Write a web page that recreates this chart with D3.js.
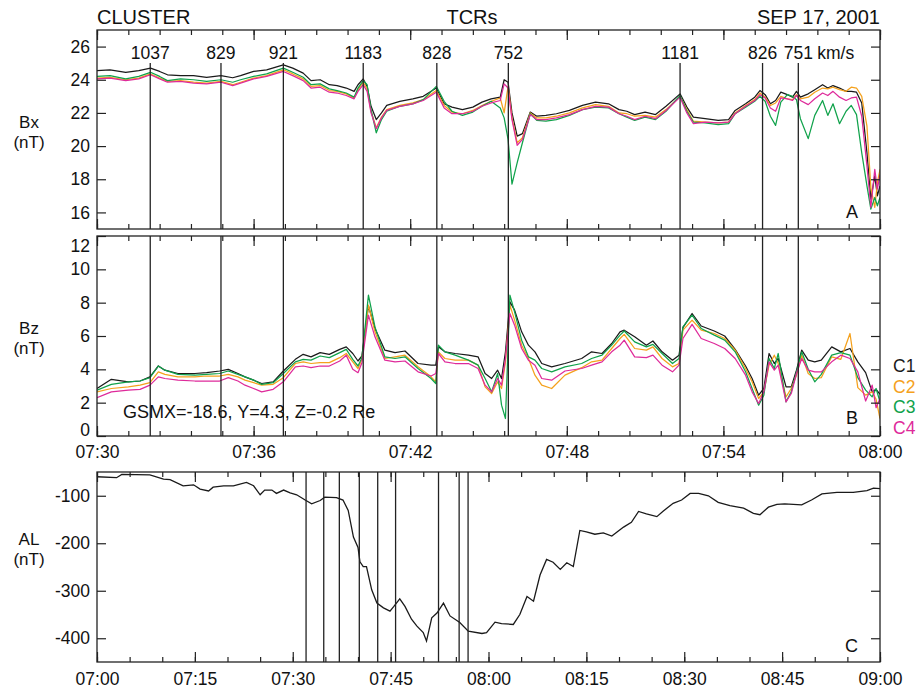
<!DOCTYPE html>
<html>
<head>
<meta charset="utf-8">
<script src="https://cdn.jsdelivr.net/npm/d3@7"></script>
<style>
  body { margin: 0; background: #fff; }
  svg { font-family: "Liberation Sans", Arial, Helvetica, sans-serif; }
  .axis path { display: none; }
  .axis line { stroke: #222; stroke-width: 1.2; }
  .axis text { font-size: 17.5px; fill: #111; }
</style>
</head>
<body>
<svg id="chart" width="921" height="690"></svg>
<script>
const probes = ['C1', 'C2', 'C3', 'C4'];
const probeColours = ['#1a1a1a', '#f5a11c', '#10a24b', '#de2a9a'];

// TCR crossing times, minutes after 07:30, with speeds in km/s
const tcrMinutes = [2.04, 4.75, 7.14, 10.2, 13.02, 15.76, 22.34, 25.5, 26.87];
const tcrSpeeds = ['1037', '829', '921', '1183', '828', '752', '1181', '826', '751'];

// Bx, minutes after 07:30
const bxMinutes = [0, 0.5, 1.1, 1.6, 2.05, 2.4, 2.7, 3.2, 3.7, 4.2,
  4.75, 5.2, 5.5, 6.0, 6.5, 7.14, 7.5, 7.9, 8.2, 8.55,
  8.9, 9.2, 9.55, 9.85, 10.0, 10.2, 10.35, 10.5, 10.7, 10.9,
  11.1, 11.6, 12.1, 12.5, 13.0, 13.3, 13.6, 14.0, 14.4, 14.75,
  15.1, 15.45, 15.6, 15.75, 15.9, 16.1, 16.3, 16.6, 16.85, 17.2,
  17.6, 18.1, 18.6, 19.1, 19.6, 20.0, 20.3, 20.6, 21.0, 21.4,
  21.8, 22.34, 22.6, 22.85, 23.3, 23.8, 24.2, 24.45, 24.85, 25.2,
  25.4, 25.6, 25.8, 26.0, 26.2, 26.45, 26.65, 26.8, 26.95, 27.25,
  27.5, 27.8, 28.0, 28.2, 28.45, 28.7, 28.9, 29.1, 29.3, 29.5,
  29.65, 29.8, 29.9, 30];
const bxC1 = [24.55, 24.6, 24.45, 24.55, 24.7, 24.5, 24.3, 24.25, 24.25, 24.15,
  24.25, 24.12, 24.25, 24.5, 24.6, 24.9, 24.7, 24.4, 23.95, 24.0,
  23.7, 23.65, 23.5, 23.3, 23.7, 24.05, 23.6, 22.4, 21.6, 22.0,
  22.45, 22.7, 22.85, 23.0, 23.5, 22.55, 22.35, 22.2, 22.35, 22.65,
  22.85, 22.95, 24.0, 23.85, 22.0, 20.6, 20.75, 22.05, 21.8, 21.85,
  21.95, 22.15, 22.45, 22.65, 22.55, 22.2, 22.1, 21.9, 22.05, 21.9,
  22.4, 23.15, 22.35, 21.75, 21.65, 21.55, 21.6, 22.15, 22.55, 22.95,
  23.35, 23.1, 22.55, 22.75, 23.25, 23.1, 22.95, 23.3, 22.95, 23.15,
  23.4, 23.7, 23.5, 23.65, 23.5, 23.3, 23.3, 23.25, 22.6, 19.6,
  16.8, 18.2, 17.0, 17.6];
const bxC2 = [24.1, 24.15, 24.0, 24.1, 24.35, 24.1, 23.9, 23.95, 23.85, 23.8,
  23.9, 23.7, 23.85, 24.1, 24.25, 24.6, 24.35, 24.05, 23.6, 23.65,
  23.35, 23.3, 23.15, 22.9, 23.4, 23.85, 23.45, 22.1, 21.1, 21.75,
  22.2, 22.45, 22.6, 22.8, 23.35, 22.45, 22.05, 21.95, 22.15, 22.45,
  22.7, 22.9, 22.0, 23.6, 21.7, 20.2, 20.5, 22.0, 21.7, 21.7,
  21.8, 22.0, 22.3, 22.5, 22.4, 22.0, 21.95, 21.8, 21.85, 21.75,
  22.2, 23.0, 22.2, 21.5, 21.45, 21.4, 21.45, 22.0, 22.45, 22.8,
  23.2, 22.95, 22.45, 22.6, 23.0, 22.85, 22.8, 23.1, 22.85, 22.95,
  23.25, 23.5, 23.45, 23.55, 23.4, 23.3, 23.55, 23.5, 23.0, 21.2,
  17.5, 16.3, 17.8, 18.6];
const bxC3 = [24.2, 24.25, 24.05, 24.2, 24.45, 24.2, 23.95, 24.05, 24.0, 23.9,
  24.0, 23.85, 24.0, 24.2, 24.35, 24.7, 24.45, 24.15, 23.7, 23.75,
  23.45, 23.35, 23.2, 22.95, 23.5, 23.95, 23.7, 22.2, 20.8, 21.6,
  22.1, 22.4, 22.55, 22.8, 23.6, 22.7, 22.1, 21.85, 22.05, 22.4,
  22.7, 22.3, 21.7, 20.4, 17.7, 19.0, 20.2, 21.95, 21.55, 21.5,
  21.6, 21.85, 22.2, 22.35, 22.3, 21.95, 21.75, 21.55, 21.75, 21.6,
  22.1, 23.05, 22.1, 21.45, 21.4, 21.3, 21.35, 21.95, 22.35, 22.7,
  23.0, 22.7, 21.8, 21.25, 22.65, 23.1, 23.0, 22.8, 21.65, 20.45,
  21.85, 22.75, 21.85, 22.55, 21.35, 22.1, 22.45, 21.9, 19.6, 17.6,
  16.2, 16.9, 16.4, 16.9];
const bxC4 = [24.05, 24.1, 23.95, 24.05, 24.3, 24.05, 23.85, 23.9, 23.8, 23.75,
  23.85, 23.65, 23.8, 24.05, 24.2, 24.5, 24.25, 23.95, 23.5, 23.55,
  23.25, 23.2, 23.05, 22.85, 23.3, 23.7, 23.3, 22.0, 21.05, 21.7,
  22.15, 22.4, 22.55, 22.75, 23.25, 22.3, 21.95, 21.95, 22.1, 22.4,
  22.6, 22.75, 23.75, 23.5, 21.6, 20.05, 20.4, 21.9, 21.6, 21.6,
  21.7, 21.9, 22.2, 22.4, 22.35, 21.95, 21.8, 21.6, 21.8, 21.65,
  22.15, 22.95, 22.0, 21.35, 21.45, 21.4, 21.45, 21.95, 22.4, 22.75,
  23.1, 22.9, 22.3, 22.1, 22.9, 22.85, 22.75, 23.05, 22.75, 22.5,
  22.85, 23.2, 23.05, 23.3, 22.95, 22.75, 22.9, 22.95, 21.8, 18.8,
  16.3, 18.6, 17.4, 18.3];

// Bz, minutes after 07:30
const bzMinutes = [0, 0.55, 1.2, 1.65, 2.03, 2.35, 2.6, 3.1, 3.75, 4.2,
  4.7, 5.03, 5.4, 5.67, 6.0, 6.31, 6.75, 7.14, 7.6, 7.9,
  8.2, 8.55, 8.9, 9.3, 9.55, 9.8, 10.0, 10.15, 10.4, 10.65,
  11.03, 11.42, 11.8, 12.3, 12.8, 12.98, 13.08, 13.33, 13.72, 14.23,
  14.6, 14.87, 15.12, 15.35, 15.5, 15.65, 15.82, 16.0, 16.27, 16.53,
  16.78, 17.04, 17.42, 17.93, 18.57, 18.95, 19.35, 19.72, 20.04, 20.2,
  20.6, 21.05, 21.3, 21.65, 22.05, 22.3, 22.45, 22.8, 23.15, 23.65,
  24.05, 24.45, 24.85, 25.1, 25.35, 25.55, 25.75, 25.95, 26.1, 26.4,
  26.6, 26.8, 27.0, 27.25, 27.5, 27.75, 28.15, 28.5, 28.85, 29.15,
  29.45, 29.7, 29.85, 30];
const bzC1 = [2.85, 3.4, 3.25, 3.3, 3.55, 4.2, 3.95, 3.75, 3.75, 3.8,
  3.9, 4.0, 3.75, 3.55, 3.35, 3.15, 3.25, 3.9, 4.6, 4.9,
  4.75, 5.0, 4.9, 5.2, 5.35, 4.95, 4.5, 4.8, 7.8, 6.45,
  5.15, 5.0, 5.1, 4.35, 4.25, 4.25, 5.35, 5.05, 4.95, 4.85,
  4.75, 3.75, 3.45, 3.95, 3.45, 5.05, 8.05, 7.55, 6.25, 5.45,
  5.05, 4.35, 4.15, 4.35, 4.65, 5.05, 4.95, 5.55, 6.25, 6.35,
  5.95, 5.45, 5.7, 5.05, 4.55, 4.85, 6.5, 7.35, 6.6, 6.3,
  6.0, 5.2, 4.2, 3.45, 2.45, 2.85, 4.95, 4.35, 4.65, 2.95,
  2.95, 3.95, 5.15, 4.55, 4.45, 4.55, 5.35, 5.05, 5.25, 4.45,
  3.8, 2.65, 2.8, 2.5];
const bzC2 = [2.65, 2.85, 2.95, 3.05, 3.2, 3.85, 3.7, 3.55, 3.55, 3.6,
  3.6, 3.7, 3.55, 3.35, 3.2, 3.05, 3.1, 3.5, 4.35, 4.45,
  4.35, 4.4, 4.4, 4.7, 4.95, 4.45, 4.05, 4.6, 7.85, 6.25,
  4.65, 4.75, 4.85, 4.15, 3.55, 3.25, 5.05, 4.65, 4.55, 4.55,
  4.25, 2.95, 2.55, 3.25, 2.85, 4.45, 7.85, 6.95, 5.45, 4.65,
  3.65, 3.05, 2.85, 3.65, 4.1, 4.45, 4.55, 5.25, 5.85, 6.1,
  5.25, 5.15, 5.35, 4.65, 4.15, 4.35, 6.35, 6.95, 6.35, 6.15,
  5.85, 5.15, 4.05, 3.25, 2.25, 2.65, 4.25, 4.85, 4.35, 2.35,
  2.85, 3.65, 4.85, 3.75, 3.45, 3.5, 4.75, 4.6, 6.15, 2.9,
  2.45, 2.65, 2.2, 1.05];
const bzC3 = [2.75, 3.1, 3.25, 3.3, 3.5, 4.2, 3.95, 3.7, 3.65, 3.7,
  3.75, 3.9, 3.7, 3.55, 3.35, 3.1, 3.2, 3.75, 4.45, 4.6,
  4.55, 4.8, 4.7, 5.0, 5.2, 4.6, 4.2, 4.7, 8.45, 6.55,
  4.75, 4.65, 4.75, 4.05, 3.45, 3.15, 5.45, 5.05, 4.85, 4.55,
  4.25, 3.45, 2.65, 3.75, 1.85, 1.05, 8.45, 7.45, 5.75, 4.75,
  4.55, 4.05, 3.85, 4.15, 4.35, 4.65, 4.85, 5.45, 6.05, 6.3,
  5.65, 5.35, 5.5, 4.95, 4.35, 4.65, 6.55, 7.25, 6.45, 6.05,
  5.75, 5.05, 3.85, 2.85, 1.85, 2.45, 4.65, 4.05, 4.95, 2.05,
  2.65, 3.85, 5.05, 4.0, 3.25, 3.7, 4.85, 5.0, 4.85, 3.5,
  2.75, 2.35, 2.85, 2.05];
const bzC4 = [2.3, 2.65, 2.75, 2.8, 3.05, 3.55, 3.45, 3.35, 3.3, 3.3,
  3.3, 3.5, 3.3, 3.05, 2.85, 2.65, 2.8, 3.25, 4.15, 4.2,
  4.1, 4.2, 4.2, 4.5, 4.85, 4.0, 3.8, 4.4, 7.25, 5.95,
  4.55, 4.45, 4.5, 3.85, 3.6, 3.75, 4.95, 4.45, 4.35, 4.35,
  4.05, 3.05, 2.65, 3.45, 3.05, 4.65, 7.35, 6.65, 5.25, 4.55,
  4.25, 3.45, 3.35, 3.9, 4.05, 4.25, 4.45, 5.05, 5.45, 5.75,
  4.75, 4.7, 4.85, 4.25, 3.85, 4.25, 5.85, 6.7, 5.85, 5.55,
  5.25, 4.65, 3.65, 2.65, 1.95, 2.65, 4.45, 3.95, 4.25, 2.05,
  2.55, 3.75, 4.65, 3.95, 3.85, 3.85, 4.45, 4.85, 4.65, 3.85,
  2.1, 3.05, 1.7, 2.25];

// AL index, minutes after 07:00
const alMinutes = [0, 3, 3.8, 8.1, 10.2, 11.2, 13.2, 14.8, 15.8, 17.1,
  17.8, 19.4, 20.9, 22.9, 24, 25, 25.7, 26.8, 27.5, 28.6,
  29.6, 30.6, 31.9, 32.9, 34.2, 34.9, 36.7, 37.7, 38.5, 39.3,
  40.0, 40.3, 40.8, 41.3, 42.1, 42.9, 43.9, 44.9, 45.5, 46.4,
  47.2, 48.2, 49.0, 50.0, 50.5, 51.3, 52.1, 53.1, 54.1, 55.6,
  56.9, 59, 59.7, 61, 62, 63.8, 64.8, 65.9, 66.9, 67.9,
  68.9, 69.9, 71, 72, 73, 74, 75, 76.3, 77.6, 78.9,
  80.7, 81.9, 83, 84.2, 85.8, 86.8, 88.3, 89.6, 90.9, 92.2,
  93.7, 95.2, 97, 99.1, 100.6, 101.6, 102.9, 104.2, 105.4, 108,
  109.5, 111.1, 113.4, 115.9, 118, 119, 120];
const alValues = [-60, -62, -55, -56, -65, -66, -79, -77, -86, -90,
  -82, -79, -79, -72, -79, -98, -88, -88, -95, -88,
  -94, -98, -109, -117, -110, -103, -104, -109, -131, -187,
  -209, -239, -249, -249, -298, -326, -336, -343, -333, -317,
  -333, -360, -374, -388, -406, -357, -347, -326, -353, -367,
  -385, -390, -388, -366, -369, -371, -350, -312, -322, -267,
  -234, -240, -255, -241, -249, -173, -176, -181, -178, -185,
  -166, -156, -133, -138, -144, -132, -116, -109, -95, -95,
  -100, -114, -121, -126, -137, -140, -124, -118, -117, -119,
  -109, -96, -93, -93, -89, -84, -85];

// ticks
const bxTicks = [16, 18, 20, 22, 24, 26];
const bzTicks = [0, 2, 4, 6, 8, 10, 12];
const alTicks = [-400, -300, -200, -100];
const abTickMinutes = [0, 6, 12, 18, 24, 30];
const abTickLabels = ['07:30', '07:36', '07:42', '07:48', '07:54', '08:00'];
const cTickMinutes = [0, 15, 30, 45, 60, 75, 90, 105, 120];
const cTickLabels = ['07:00', '07:15', '07:30', '07:45', '08:00', '08:15', '08:30', '08:45', '09:00'];

const left = 97, right = 880;
const svg = d3.select('#chart');

const xAB = d3.scaleLinear().domain([0, 30]).range([left, right]);
const xC = d3.scaleLinear().domain([0, 120]).range([left, right]);
const yA = d3.scaleLinear().domain([15, 27]).range([229, 30]);
const yB = d3.scaleLinear().domain([0, 12]).range([436, 236]);
const yC = d3.scaleLinear().domain([-450, -50]).range([662, 472]);

function drawAxes(x, y, yTicks, majors, minors, labels, labelPad) {
  const [bottom, top] = y.range();
  const [ymin, ymax] = y.domain();
  let g = svg.append('g');

  // plain hyphen for negatives, like the original plot
  let yAxis = g.append('g').attr('class', 'axis')
      .attr('transform', `translate(${left},0)`)
      .call(d3.axisLeft(y).tickValues(yTicks).tickSizeInner(-9).tickSizeOuter(0).tickPadding(7)
        .tickFormat(function(d) { return String(d); }));
  // labels sitting on the frame corners are nudged inside, as IDL does
  yAxis.selectAll('.tick text')
      .attr('dy', function(d) { return d === ymax ? '0.9em' : (d === ymin ? '-0.05em' : '0.32em'); });

  g.append('g').attr('class', 'axis')
      .attr('transform', `translate(${right},0)`)
      .call(d3.axisRight(y).tickValues(yTicks).tickSizeInner(-9).tickSizeOuter(0).tickFormat(''));

  g.append('g').attr('class', 'axis')
      .attr('transform', `translate(0,${top})`)
      .call(d3.axisTop(x).tickValues(majors).tickSizeInner(-10).tickSizeOuter(0).tickFormat(''));
  g.append('g').attr('class', 'axis')
      .attr('transform', `translate(0,${top})`)
      .call(d3.axisTop(x).tickValues(minors).tickSizeInner(-5).tickSizeOuter(0).tickFormat(''));

  g.append('g').attr('class', 'axis')
      .attr('transform', `translate(0,${bottom})`)
      .call(d3.axisBottom(x).tickValues(majors).tickSizeInner(-10).tickSizeOuter(0).tickPadding(labelPad)
        .tickFormat(function(d, i) { return labels ? labels[i] : ''; }));
  g.append('g').attr('class', 'axis')
      .attr('transform', `translate(0,${bottom})`)
      .call(d3.axisBottom(x).tickValues(minors).tickSizeInner(-5).tickSizeOuter(0).tickFormat(''));

  g.append('rect')
      .attr('x', left).attr('y', top)
      .attr('width', right - left).attr('height', bottom - top)
      .attr('fill', 'none').attr('stroke', '#222').attr('stroke-width', 1.3);
}

function clip(id, y) {
  const [bottom, top] = y.range();
  svg.append('clipPath').attr('id', id)
    .append('rect').attr('x', left).attr('y', top)
    .attr('width', right - left).attr('height', bottom - top);
}
clip('clipA', yA);
clip('clipB', yB);
clip('clipC', yC);

// probe traces
function drawTraces(times, series, y, clipId) {
  let line = d3.line()
      .x(function(d) { return xAB(d[0]); })
      .y(function(d) { return y(d[1]); });
  let g = svg.append('g').attr('clip-path', `url(#${clipId})`);
  series.forEach(function(vals, i) {
    g.append('path')
        .datum(d3.zip(times, vals))
        .attr('fill', 'none')
        .attr('stroke', probeColours[i])
        .attr('stroke-width', 1.25)
        .attr('stroke-linejoin', 'round')
        .attr('d', line);
  });
}

drawTraces(bxMinutes, [bxC1, bxC2, bxC3, bxC4], yA, 'clipA');
drawTraces(bzMinutes, [bzC1, bzC2, bzC3, bzC4], yB, 'clipB');

svg.append('path')
    .datum(d3.zip(alMinutes, alValues))
    .attr('clip-path', 'url(#clipC)')
    .attr('fill', 'none')
    .attr('stroke', '#1a1a1a')
    .attr('stroke-width', 1.3)
    .attr('d', d3.line().x(function(d) { return xC(d[0]); }).y(function(d) { return yC(d[1]); }));

// TCR markers
svg.append('g').selectAll('line')
    .data(tcrMinutes)
    .enter().append('line')
      .attr('x1', function(d) { return xAB(d); }).attr('x2', function(d) { return xAB(d); })
      .attr('y1', 63).attr('y2', yA.range()[0])
      .attr('stroke', '#222').attr('stroke-width', 1.3);
svg.append('g').selectAll('line')
    .data(tcrMinutes)
    .enter().append('line')
      .attr('x1', function(d) { return xAB(d); }).attr('x2', function(d) { return xAB(d); })
      .attr('y1', yB.range()[1]).attr('y2', yB.range()[0])
      .attr('stroke', '#222').attr('stroke-width', 1.3);
svg.append('g').selectAll('line')
    .data(tcrMinutes)
    .enter().append('line')
      .attr('x1', function(d) { return xC(d + 30); }).attr('x2', function(d) { return xC(d + 30); })
      .attr('y1', yC.range()[1]).attr('y2', yC.range()[0])
      .attr('stroke', '#222').attr('stroke-width', 1.3);

svg.append('g').selectAll('text')
    .data(tcrMinutes)
    .enter().append('text')
      .attr('x', function(d) { return xAB(d); })
      .attr('y', 59)
      .attr('text-anchor', 'middle')
      .attr('font-size', '17.5px')
      .attr('fill', '#111')
      .text(function(d, i) { return tcrSpeeds[i]; });
svg.append('text')
    .attr('x', xAB(tcrMinutes[tcrMinutes.length - 1]) + 19)
    .attr('y', 59)
    .attr('font-size', '17.5px')
    .attr('fill', '#111')
    .text('km/s');

// axes + frames
const abMinor = d3.range(0, 30.001, 1.2);
const cMinor = d3.range(0, 120.001, 5);
drawAxes(xAB, yA, bxTicks, abTickMinutes, abMinor, null, 10);
drawAxes(xAB, yB, bzTicks, abTickMinutes, abMinor, abTickLabels, 10);
drawAxes(xC, yC, alTicks, cTickMinutes, cMinor, cTickLabels, 11);

// header
svg.append('text').attr('x', left).attr('y', 24).attr('font-size', '20px').attr('fill', '#111').text('CLUSTER');
svg.append('text').attr('x', 472).attr('y', 24).attr('font-size', '20px').attr('fill', '#111')
    .attr('text-anchor', 'middle').text('TCRs');
svg.append('text').attr('x', right).attr('y', 24).attr('font-size', '20px').attr('fill', '#111')
    .attr('text-anchor', 'end').text('SEP 17, 2001');

// y titles
const yTitles = [['Bx', 128, 148], ['Bz', 334, 354], ['AL', 545, 565]];
yTitles.forEach(function(t) {
  svg.append('text').attr('x', 29).attr('y', t[1]).attr('font-size', '17px')
      .attr('text-anchor', 'middle').attr('fill', '#111').text(t[0]);
  svg.append('text').attr('x', 29).attr('y', t[2]).attr('font-size', '17px')
      .attr('text-anchor', 'middle').attr('fill', '#111').text('(nT)');
});

// panel letters
[['A', 218], ['B', 424], ['C', 652]].forEach(function(p) {
  svg.append('text').attr('x', 858).attr('y', p[1]).attr('font-size', '18px')
      .attr('text-anchor', 'end').attr('fill', '#111').text(p[0]);
});

svg.append('text').attr('x', 123).attr('y', 418).attr('font-size', '18px').attr('fill', '#111')
    .text('GSMX=-18.6, Y=4.3, Z=-0.2 Re');

// legend
svg.append('g').selectAll('text')
    .data(probes)
    .enter().append('text')
      .attr('x', 893)
      .attr('y', function(d, i) { return 372 + i * 20.5; })
      .attr('font-size', '17.5px')
      .attr('fill', function(d, i) { return probeColours[i]; })
      .text(function(d) { return d; });
</script>
</body>
</html>
